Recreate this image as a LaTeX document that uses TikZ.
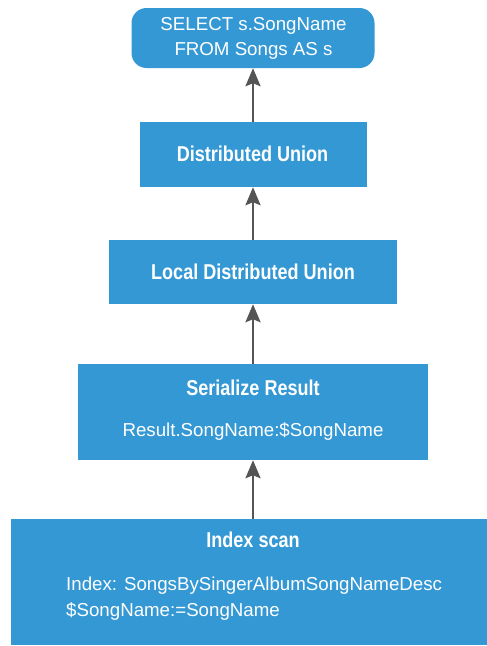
\documentclass[tikz,border=0pt]{standalone}
\usepackage{fontspec}
\setmainfont{Liberation Sans}
\newfontfamily\titlefont{Liberation Sans}[FakeStretch=0.84]
\usepackage{tikz}
\usetikzlibrary{arrows.meta,positioning,calc}

\definecolor{opblue}{RGB}{52,152,212}
\definecolor{arrgray}{RGB}{85,85,85}

\tikzset{
  opbox/.style={fill=opblue, draw=none, inner sep=0pt},
  optext/.style={text=white, font=\fontsize{18.7}{25}\selectfont, inner sep=0pt},
  optitle/.style={text=white, font=\titlefont\fontsize{21.5}{25}\selectfont\bfseries, inner sep=0pt},
  flow/.style={draw=arrgray, line width=2.6pt, -{Stealth[length=18pt,width=15pt,inset=3pt]}}
}

\begin{document}
\begin{tikzpicture}[x=1pt, y=-1pt]
  \useasboundingbox (0,0) rectangle (487,646);
  % query at the top
  \node[opbox, rounded corners=15pt, minimum width=243pt, minimum height=60pt] (sel) at (253,38) {};
  \node[optext, align=center, anchor=base] (seltxt) at (253.5,55.7) {SELECT s.SongName\\FROM Songs AS s};
  % distributed union
  \node[opbox, minimum width=227pt, minimum height=65pt] (dunion) at (253,154.5) {};
  \node[optitle, anchor=base] (dutxt) at (252.5,161) {Distributed Union};
  % local distributed union
  \node[opbox, minimum width=288pt, minimum height=64pt] (ldunion) at (253,272) {};
  \node[optitle, anchor=base] (ldutxt) at (253,279) {Local Distributed Union};
  % serialize result
  \node[opbox, minimum width=350pt, minimum height=96pt] (ser) at (253,412) {};
  \node[optitle, anchor=base] (sertitle) at (253,395) {Serialize Result};
  \node[optext, anchor=base] (sertxt) at (253,436) {Result.SongName:\$SongName};
  % index scan
  \node[opbox, minimum width=476pt, minimum height=126pt] (idx) at (249,582) {};
  \node[optitle, anchor=base] (idxtitle) at (253,547.5) {Index scan};
  \node[optext, align=left, anchor=base west, font=\fontsize{18.7}{26.7}\selectfont] (idxtxt) at (66,616.7) {Index: SongsBySingerAlbumSongNameDesc\\\$SongName:=SongName};
  % arrows
  \draw[flow] (ser.south |- idx.north) -- (ser.south);
  \draw[flow] (ser.north) -- (ldunion.south);
  \draw[flow] (ldunion.north) -- (dunion.south);
  \draw[flow] (dunion.north) -- (sel.south);
\end{tikzpicture}
\end{document}
